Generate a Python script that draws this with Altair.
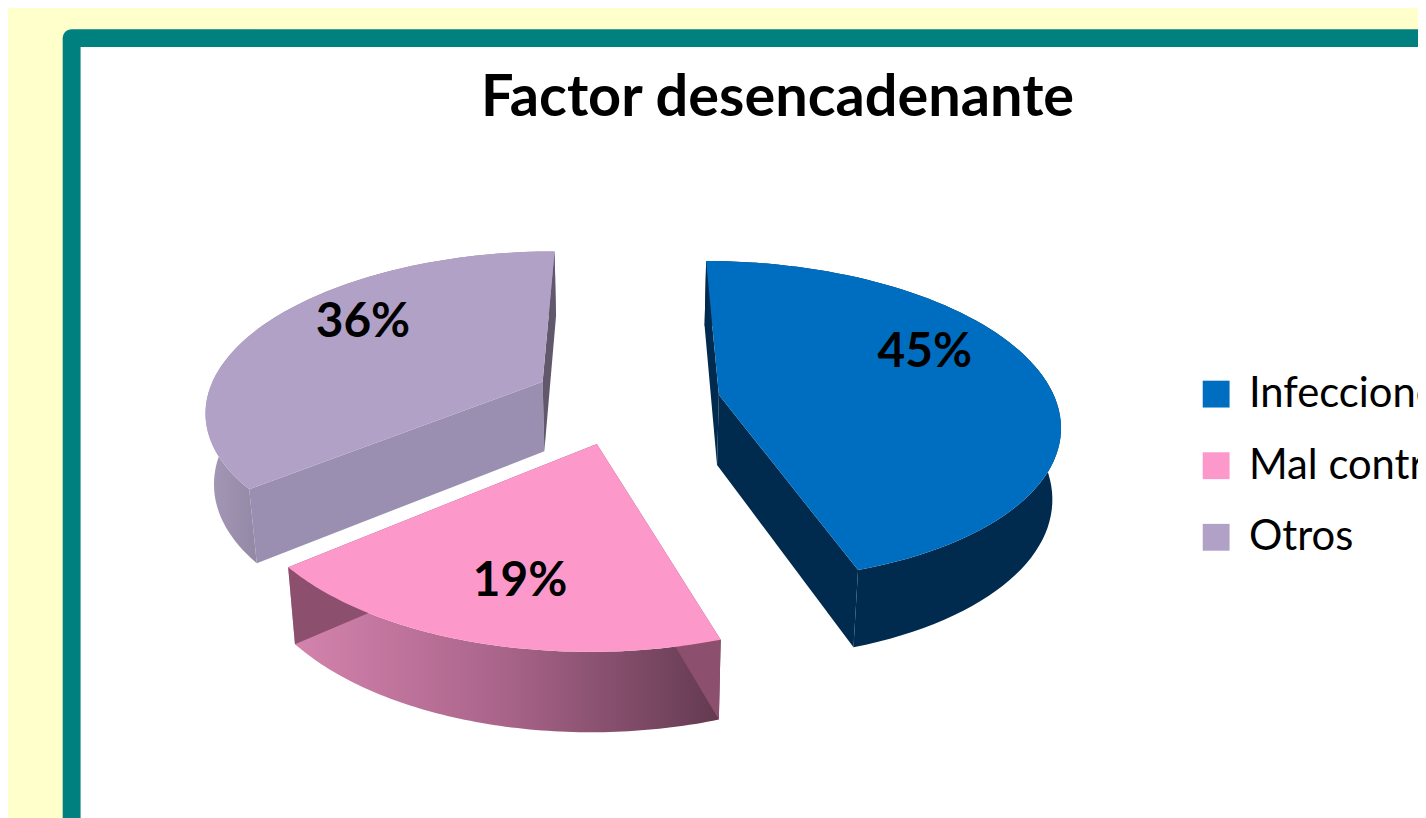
import math
import altair as alt

# --- chart data ---
categories = ["Infecciones", "Mal control", "Otros"]
values = [45, 19, 36]
labels = ["45%", "19%", "36%"]
top_colors = ["#006EC0", "#FD98CB", "#B2A1C7"]
title_text = "Factor desencadenante"

# --- view of the tilted, exploded pie (page pixels) ---
CX, CY, A, B, K = 632.0, 390.0, 335.0, 155.0, 0.163
EXPLODE = {"Infecciones": (0.27, -0.03), "Mal control": (-0.09, -0.33), "Otros": (-0.26, 0.055)}
PAGE = 8
W, H = 1418, 810


def project(u, v):
    p = 1.0 / (1.0 + K * v)
    return (CX + A * u * p, CY - B * v * p)


def drop(pt):
    x, y = pt
    h = 65 + 0.04 * (y - 257)
    return (CX + 0.98 * (x - CX), y + h)


def px(pts):
    return [[x - PAGE, y - PAGE] for x, y in pts]


def feature(pts, **props):
    ring = px(pts)
    ring.append(ring[0])
    return {"type": "Feature", "properties": props,
            "geometry": {"type": "Polygon", "coordinates": [ring]}}


tops, flats, rims = [], [], {}
side_flat = {"Infecciones": "#002B4E", "Mal control": "#8C4F6E", "Otros": "#62586C"}
sliver = {"Infecciones": "#002B4E", "Mal control": "#8C4F6E", "Otros": "#9A8FB0"}
total = sum(values)
start = 0.0
for cat, val in zip(categories, values):
    end = start + val / total * 2 * math.pi
    u0, v0 = EXPLODE[cat]
    n = 80
    arc = [project(u0 + math.sin(start + (end - start) * i / n),
                   v0 + math.cos(start + (end - start) * i / n)) for i in range(n + 1)]
    apex = project(u0, v0)
    # rim strip
    rims[cat] = feature(arc + [drop(p) for p in reversed(arc)], category=cat)
    # radial faces
    flats.append(feature([apex, arc[0], drop(arc[0]), drop(apex)], color=sliver[cat]))
    flats.append(feature([apex, arc[-1], drop(arc[-1]), drop(apex)], color=side_flat[cat]))
    tops.append(feature([apex] + arc, category=cat))
    start = end

IDENTITY = dict(type="identity", scale=1, translate=[0, 0])


def geo(features):
    return alt.Data(values=features)


frame_outer = alt.Chart(alt.Data(values=[{}])).mark_rect(
    color="#00807F", cornerRadius=9).encode(
    x=alt.value(63 - PAGE), x2=alt.value(W + 40), y=alt.value(27 - PAGE), y2=alt.value(H + 40))
frame_inner = alt.Chart(alt.Data(values=[{}])).mark_rect(color="#FFFFFF").encode(
    x=alt.value(81 - PAGE), x2=alt.value(W + 20), y=alt.value(45 - PAGE), y2=alt.value(H + 20))


def rim_layer(cat, stops):
    grad = alt.LinearGradient(gradient="linear", x1=0, x2=1, y1=0, y2=0,
                              stops=[alt.GradientStop(offset=o, color=c) for o, c in stops])
    return alt.Chart(geo([rims[cat]])).mark_geoshape(fill=grad, strokeWidth=0).project(**IDENTITY)


flat_layer = alt.Chart(geo(flats)).mark_geoshape(strokeWidth=0).encode(
    fill=alt.Fill("properties.color:N", scale=None)).project(**IDENTITY)

rim_lav = rim_layer("Otros", [(0, "#A599B8"), (0.18, "#8F84A0"), (0.7, "#8F84A0"), (1, "#9C90B2")])
rim_pink = rim_layer("Mal control", [(0, "#D584AE"), (0.5, "#A9648A"), (1, "#633A50")])
rim_blue = rim_layer("Infecciones", [(0, "#002B4E"), (1, "#002B4E")])

top_layer = alt.Chart(geo(tops)).mark_geoshape(strokeWidth=0).encode(
    fill=alt.Fill("properties.category:N",
                  scale=alt.Scale(domain=categories, range=top_colors),
                  legend=alt.Legend(
                      title=None, orient="none", legendX=1202 - PAGE, legendY=373 - PAGE,
                      symbolType="square", symbolSize=729, symbolStrokeWidth=0,
                      labelFont="Lato", labelFontSize=42, labelColor="#000000",
                      labelOffset=12, rowPadding=30, labelLimit=600,
                      symbolOffset=0, padding=0))
).project(**IDENTITY)

label_x = [930, 523, 365]
label_y = [353, 583, 323]
label_rows = [{"t": t, "x": x - PAGE, "y": y - PAGE} for t, x, y in zip(labels, label_x, label_y)]
pos_x = alt.Scale(domain=[0, W], range=[0, W])
pos_y = alt.Scale(domain=[0, H], range=[0, H])
label_layer = alt.Chart(alt.Data(values=label_rows)).mark_text(
    font="Lato", fontWeight="bold", fontSize=48, color="#000000", align="center", baseline="middle"
).encode(x=alt.X("x:Q", scale=pos_x, axis=None), y=alt.Y("y:Q", scale=pos_y, axis=None), text="t:N")

title_layer = alt.Chart(alt.Data(values=[{"t": title_text}])).mark_text(
    font="Lato", fontWeight="bold", fontSize=58, color="#000000", align="center", baseline="middle"
).encode(x=alt.value(782 - PAGE), y=alt.value(97 - PAGE), text="t:N")

chart = alt.layer(
    frame_outer, frame_inner, rim_lav, rim_pink, rim_blue, flat_layer, top_layer, label_layer, title_layer
).resolve_scale(x="independent", y="independent").properties(
    width=W, height=H, background="#FFFFCC", padding=0,
    autosize=alt.AutoSizeParams(type="none"),
).configure_view(stroke=None)

chart.save("out.html", embed_options={"renderer": "svg", "actions": False})
